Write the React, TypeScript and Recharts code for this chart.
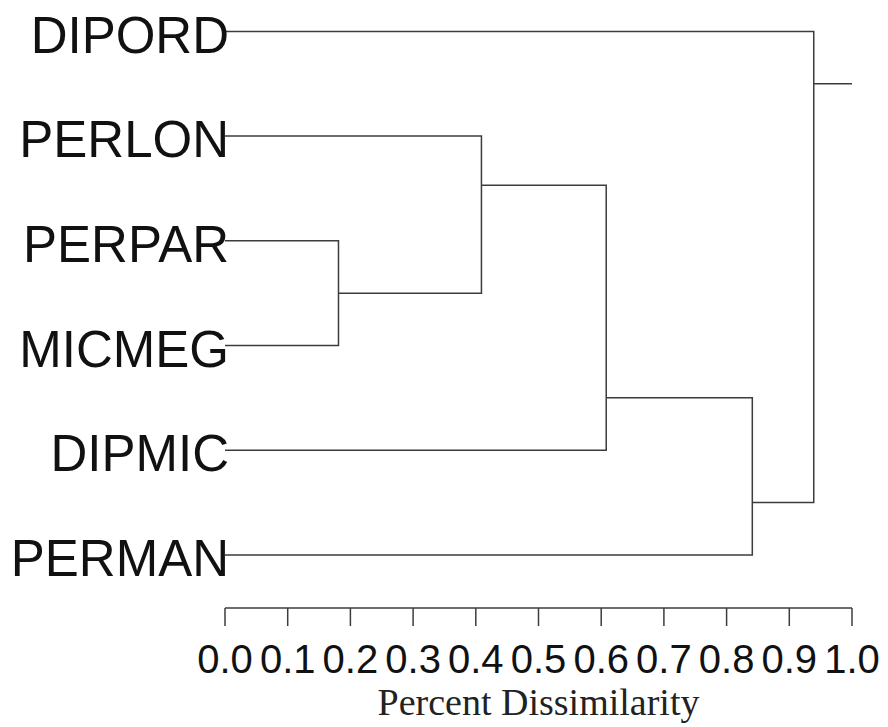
import React from 'react';
import { LineChart, Line, XAxis, YAxis } from 'recharts';

// leaf order top to bottom
const leaves = ['DIPORD', 'PERLON', 'PERPAR', 'MICMEG', 'DIPMIC', 'PERMAN'];

// merges, in order N1..N5
const mergeHeights = [0.181, 0.409, 0.608, 0.841, 0.939];
const mergeChildA = ['PERPAR', 'PERLON', 'DIPMIC', 'PERMAN', 'DIPORD'];
const mergeChildB = ['MICMEG', 'N1', 'N2', 'N3', 'N4'];
// row where the parent's line leaves each merged node (as drawn)
const nodeAttachRow = [2.5, 1.47, 3.5, 4.5, 0.5];
const rootStubEnd = 1.0;

const xTicks = [0, 0.1, 0.2, 0.3, 0.4, 0.5, 0.6, 0.7, 0.8, 0.9, 1.0];

const LINE = '#3c3c3c';

const pointOf = (name: string) => {
  if (name.startsWith('N')) {
    const k = Number(name.slice(1)) - 1;
    return { x: mergeHeights[k], y: nodeAttachRow[k] };
  }
  return { x: 0, y: leaves.indexOf(name) };
};

// each merge becomes one U-shaped path
const links = mergeHeights.map((h, i) => {
  const a = pointOf(mergeChildA[i]);
  const b = pointOf(mergeChildB[i]);
  return [a, { x: h, y: a.y }, { x: h, y: b.y }, b];
});
const rootNode = mergeHeights.length - 1;
const stub = [
  { x: mergeHeights[rootNode], y: nodeAttachRow[rootNode] },
  { x: rootStubEnd, y: nodeAttachRow[rootNode] },
];

export default function App() {
  return (
    <div style={{ position: 'absolute', left: 0, top: 0, background: '#fff' }}>
      <LineChart width={888} height={727} margin={{ top: 0, right: 36, bottom: 0, left: 0 }}>
        <XAxis
          type="number"
          dataKey="x"
          domain={[0, 1]}
          ticks={xTicks}
          interval={0}
          tickFormatter={(v: number) => v.toFixed(1)}
          height={119}
          tickSize={18}
          tickMargin={19}
          stroke={LINE}
          strokeWidth={1.5}
          tick={{ fill: '#111', fontSize: 40, fontFamily: 'Liberation Sans, Arial, sans-serif' }}
          label={{
            value: 'Percent Dissimilarity',
            position: 'insideBottom',
            offset: 12,
            fill: '#222',
            fontSize: 38,
            fontFamily: 'Liberation Serif, Times New Roman, serif',
          }}
        />
        <YAxis
          type="number"
          dataKey="y"
          reversed
          domain={[-0.3, 5.507]}
          ticks={[0, 1, 2, 3, 4, 5]}
          tickFormatter={(v: number) => leaves[v]}
          width={225}
          axisLine={false}
          tickLine={false}
          tickSize={0}
          tickMargin={-4}
          tick={{ fill: '#111', fontSize: 51, dy: 3, fontFamily: 'Liberation Sans, Arial, sans-serif' }}
        />
        {links.map((d, i) => (
          <Line
            key={i}
            data={d}
            dataKey="y"
            type="linear"
            stroke={LINE}
            strokeWidth={1.5}
            dot={false}
            activeDot={false}
            isAnimationActive={false}
          />
        ))}
        <Line
          data={stub}
          dataKey="y"
          type="linear"
          stroke={LINE}
          strokeWidth={1.5}
          dot={false}
          activeDot={false}
          isAnimationActive={false}
        />
      </LineChart>
    </div>
  );
}
